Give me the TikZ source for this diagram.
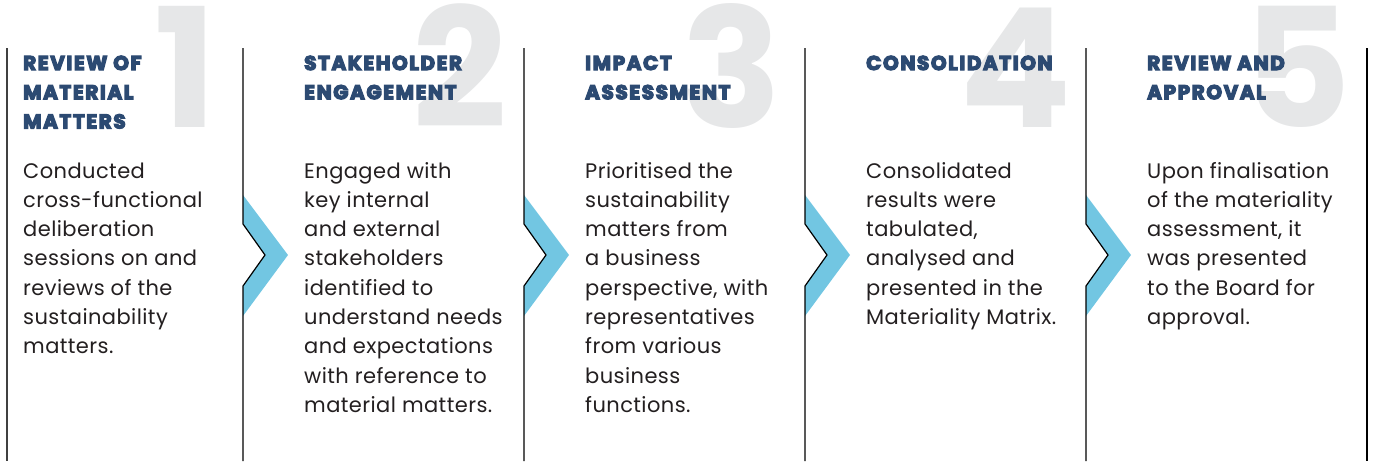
\documentclass[tikz,border=0pt]{standalone}
\usepackage{fontspec}
\setmainfont{Poppins}
\newfontfamily\headfont{Poppins Bold}[LetterSpace=8]
\newfontfamily\bodyfont{Poppins}[LetterSpace=2]
\newcommand\heavytext[1]{\special{pdf:literal 2 Tr 1.2 w}#1\special{pdf:literal 0 Tr}}
\definecolor{chevblue}{HTML}{72C6E2}
\definecolor{numgrey}{HTML}{E6E7E8}
\definecolor{headblue}{HTML}{2C4A72}
\definecolor{bodygrey}{HTML}{231F20}
\tikzset{
  rule/.style={line width=1.2pt, black},
  chev/.style={fill=chevblue, draw=none},
  bignum/.style={font=\bfseries\fontsize{166}{166}\selectfont, text=numgrey, inner sep=0pt, anchor=base east},
  head/.style={font=\headfont\fontsize{20}{29.2}\selectfont, text=headblue, inner sep=0pt, anchor=base west, align=left},
  body/.style={font=\bodyfont\fontsize{21}{29.3}\selectfont, text=bodygrey, inner sep=0pt, anchor=base west, align=left},
}
\begin{document}
\begin{tikzpicture}[x=1pt,y=-1pt]
\useasboundingbox (0,0) rectangle (1375,461);
% big numbers
\node[bignum] (n1) at (217,127) {1};
\node[bignum] (n2) at (507,127) {2};
\node[bignum] (n3) at (782,127) {3};
\node[bignum] (n4) at (1072,127) {4};
\node[bignum] (n5) at (1352,127) {5};
% outer rules
\draw[rule, black!75] (7,48) -- (7,461);
\draw[rule] (1367,48) -- (1367,461);
% dividers with chevrons
\foreach \L in {243,524,805,1086}{
  \fill[chev] (\L,195) -- (\L+45,255) -- (\L,316) -- (\L,286) -- (\L+22,255) -- (\L,224) -- cycle;
  \draw[rule] (\L,48) -- (\L,224) -- (\L+22,255) -- (\L,286) -- (\L,461);
}
% headers (anchored at the baseline of their last line)
\node[head] (h1) at (23,128.4) {\heavytext{REVIEW OF}\\\heavytext{MATERIAL}\\\heavytext{MATTERS}};
\node[head] (h2) at (304,99.2) {\heavytext{STAKEHOLDER}\\\heavytext{ENGAGEMENT}};
\node[head] (h3) at (585,99.2) {\heavytext{IMPACT}\\\heavytext{ASSESSMENT}};
\node[head] (h4) at (866,70) {\heavytext{CONSOLIDATION}};
\node[head] (h5) at (1147,99.2) {\heavytext{REVIEW AND}\\\heavytext{APPROVAL}};
% bodies (anchored at the baseline of their last line)
\node[body] (b1) at (23,353.8) {Conducted\\cross-functional\\deliberation\\sessions on and\\reviews of the\\sustainability\\matters.};
\node[body] (b2) at (304,412.4) {Engaged with\\key internal\\and external\\stakeholders\\identified to\\understand needs\\and expectations\\with reference to\\material matters.};
\node[body] (b3) at (585,412.4) {Prioritised the\\sustainability\\matters from\\a business\\perspective, with\\representatives\\from various\\business\\functions.};
\node[body] (b4) at (866,324.5) {Consolidated\\results were\\tabulated,\\analysed and\\presented in the\\Materiality Matrix.};
\node[body] (b5) at (1147,324.5) {Upon finalisation\\of the materiality\\assessment, it\\was presented\\to the Board for\\approval.};
\end{tikzpicture}
\end{document}
